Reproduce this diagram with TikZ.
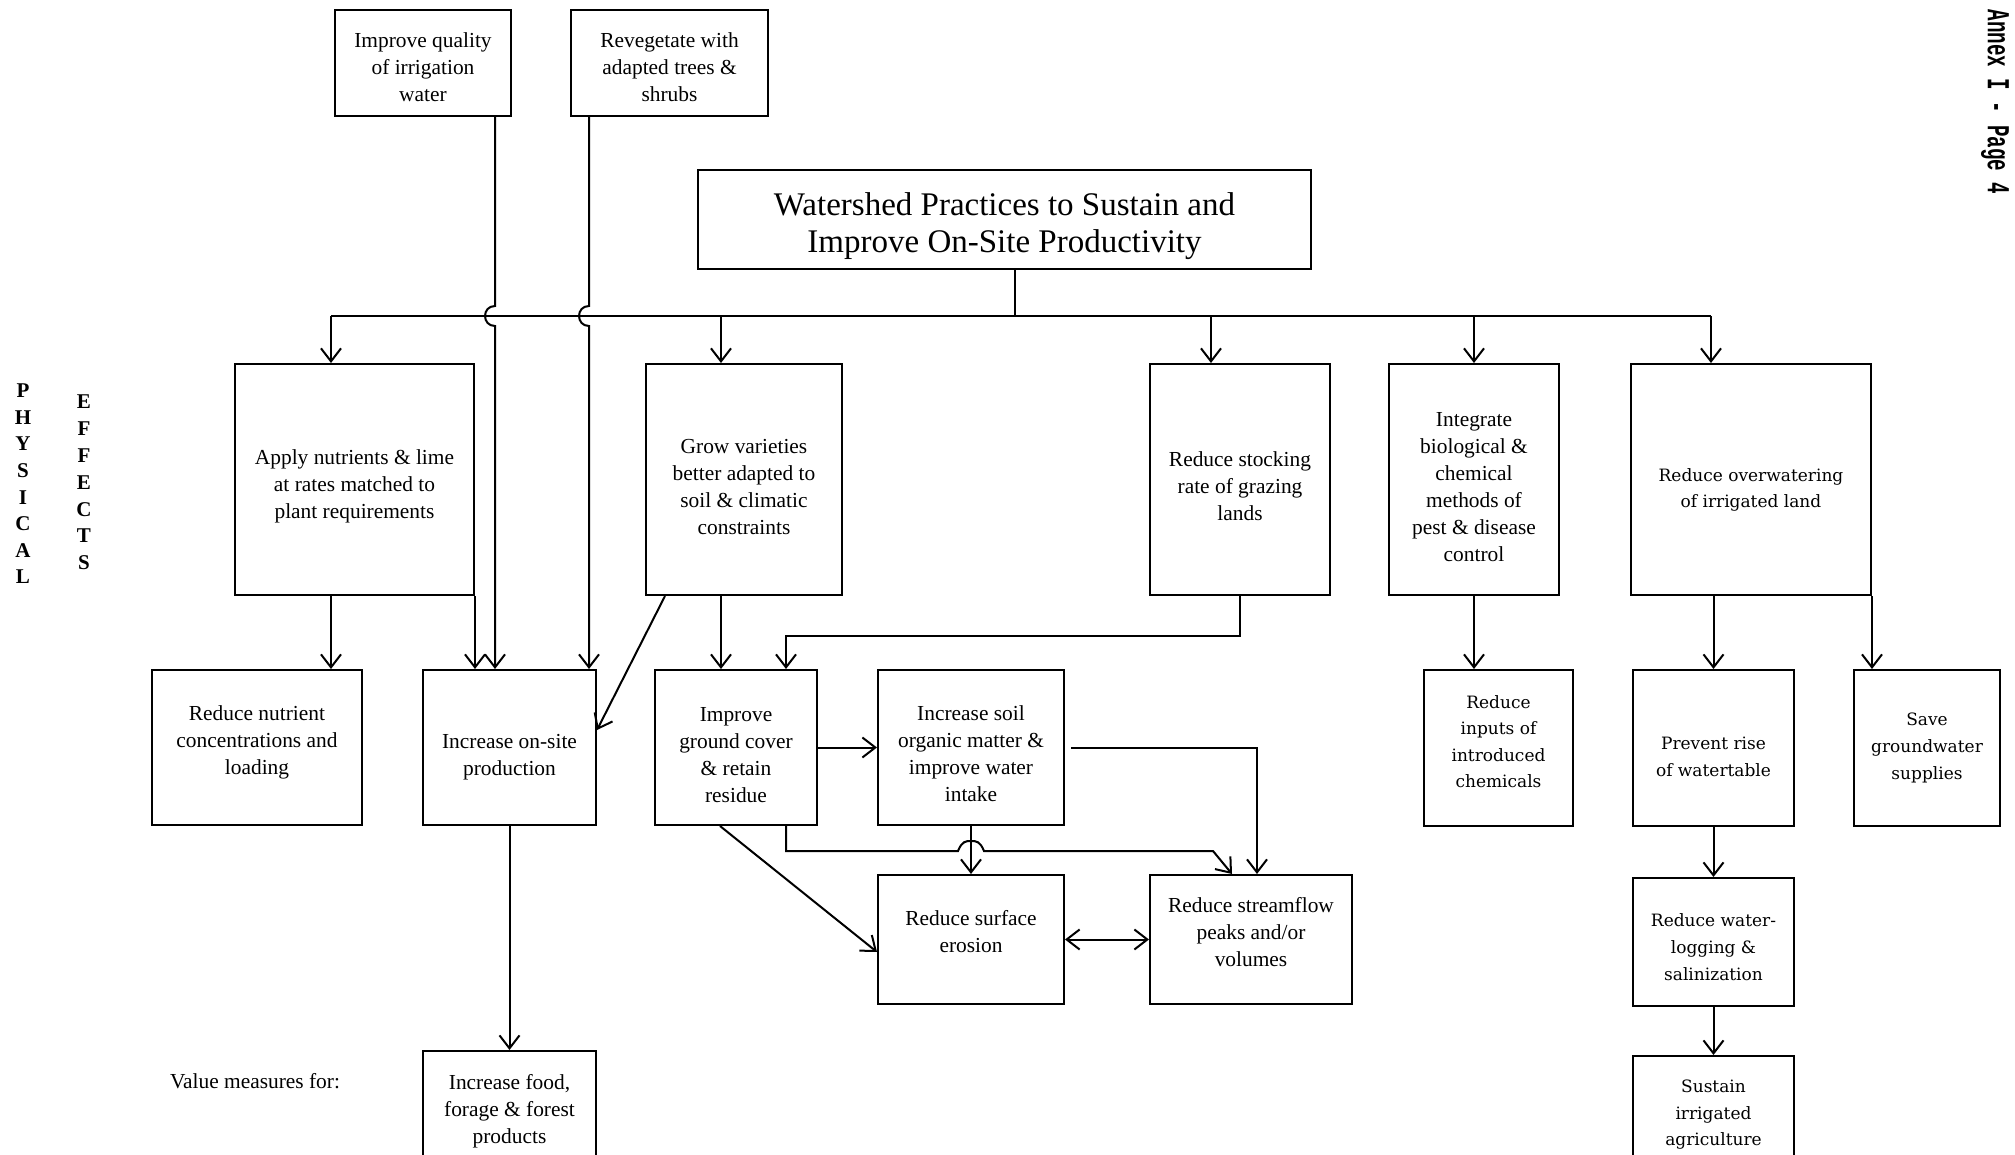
\documentclass[tikz,border=0pt]{standalone}
\usepackage{fontspec}
\setmainfont{Liberation Serif}
\newfontfamily\widefont{DejaVu Serif}
\newfontfamily\annexfont{Liberation Mono}
\usetikzlibrary{arrows.meta}

% push the text of a box down (taller first line) or up (deeper last line)
\newcommand{\dn}[1]{\rule{0pt}{#1}}
\newcommand{\up}[1]{\rule[-#1]{0pt}{0pt}}

\tikzset{
  blk/.style={draw, line width=1pt, align=center, inner sep=2pt,
    font=\fontsize{10.7}{13.5}\selectfont},
  wblk/.style={blk, font=\widefont\fontsize{8.5}{13.3}\selectfont},
  barb/.tip={Straight Barb[length=6.5pt,width=10pt]},
  arr/.style={line width=1pt, -barb},
  arrboth/.style={line width=1pt, barb-barb},
  lnk/.style={line width=1pt}
}

\begin{document}
\begin{tikzpicture}[x=0.5pt,y=-0.5pt]
\useasboundingbox (0,0) rectangle (2015,1155);
\clip (0,0) rectangle (2015,1155);

% top
\node[blk, minimum width=88pt, minimum height=53pt] (qual) at (423,63) {\dn{12pt}Improve quality\\of irrigation\\water};
\node[blk, minimum width=98.5pt, minimum height=53pt] (reveg) at (669.5,63) {\dn{12pt}Revegetate with\\adapted trees \&\\shrubs};
\node[blk, minimum width=306.5pt, minimum height=49.5pt, font=\fontsize{16.5}{18.5}\selectfont] (title) at (1004.5,219.5) {\dn{17.6pt}Watershed Practices to Sustain and\\Improve On-Site Productivity};

% practices
\node[blk, minimum width=119.5pt, minimum height=115.5pt] (apply) at (354.5,479.5) {\dn{14.3pt}Apply nutrients \& lime\\at rates matched to\\plant requirements};
\node[blk, minimum width=98pt, minimum height=115.5pt] (grow) at (744,479.5) {\dn{14.3pt}Grow varieties\\better adapted to\\soil \& climatic\\constraints};
\node[blk, minimum width=90pt, minimum height=115.5pt] (stock) at (1240,479.5) {\dn{14.3pt}Reduce stocking\\rate of grazing\\lands};
\node[blk, minimum width=85pt, minimum height=115.5pt] (integ) at (1474,479.5) {\dn{15pt}Integrate\\biological \&\\chemical\\methods of\\pest \& disease\\control};
\node[wblk, minimum width=120pt, minimum height=115.5pt] (overw) at (1751,479.5) {\dn{16.8pt}Reduce overwatering\\of irrigated land};

% physical effects
\node[blk, minimum width=105pt, minimum height=77.5pt] (rnut) at (257,747.5) {Reduce nutrient\\concentrations and\\loading\up{7.4pt}};
\node[blk, minimum width=86.5pt, minimum height=77.5pt] (onsite) at (509.5,747.5) {\dn{16.3pt}Increase on-site\\production};
\node[blk, minimum width=81pt, minimum height=77.5pt] (gcov) at (736,747.5) {\dn{15pt}Improve\\ground cover\\\& retain\\residue};
\node[blk, minimum width=93pt, minimum height=77.5pt] (soil) at (971,747.5) {\dn{13.7pt}Increase soil\\organic matter \&\\improve water\\intake};
\node[wblk, minimum width=74.5pt, minimum height=78pt] (rinp) at (1498.5,748) {Reduce\\inputs of\\introduced\\chemicals\up{6.4pt}};
\node[wblk, minimum width=80.5pt, minimum height=78pt] (prev) at (1713.5,748) {\dn{15.2pt}Prevent rise\\of watertable};
\node[wblk, minimum width=73pt, minimum height=78pt] (save) at (1927,748) {Save\\groundwater\\supplies};

\node[blk, minimum width=93pt, minimum height=64.5pt] (eros) at (971,939.5) {Reduce surface\\erosion\up{7.7pt}};
\node[blk, minimum width=101pt, minimum height=64.5pt] (strm) at (1251,939.5) {Reduce streamflow\\peaks and/or\\volumes\up{7.7pt}};
\node[wblk, minimum width=80.5pt, minimum height=64pt] (wlog) at (1713.5,942) {\dn{11.6pt}Reduce water-\\logging \&\\salinization};

% value measures
\node[blk, minimum width=86.5pt, minimum height=57pt] (food) at (509.5,1108) {\dn{11.2pt}Increase food,\\forage \& forest\\products};
\node[wblk, minimum width=80.5pt, minimum height=56pt] (sust) at (1713.5,1112) {\dn{9.1pt}Sustain\\irrigated\\agriculture};

% side labels
\node[font=\fontsize{10.7}{13}\selectfont] (vm) at (255,1081) {Value measures for:};
\node[align=center, font=\bfseries\fontsize{10.5}{13.3}\selectfont] (phys) at (23,484) {P\\H\\Y\\S\\I\\C\\A\\L};
\node[align=center, font=\bfseries\fontsize{10.5}{13.4}\selectfont] (eff) at (84,482.5) {E\\F\\F\\E\\C\\T\\S};
\node[rotate=-90, xscale=0.6, inner sep=1pt, font=\annexfont\bfseries\fontsize{16}{18}\selectfont] (annex) at (1995,102) {Annex I - Page 4};

% bus from title
\coordinate (busL) at (331,316);
\coordinate (busR) at (1711,316);
\draw[lnk] ([xshift=5.25pt]title.south) -- ([xshift=5.25pt]title.south |- busL);
\draw[lnk] (busL) -- (busR);
\foreach \x/\n in {331/apply, 721/grow, 1211/stock, 1474/integ, 1711/overw} {
  \coordinate (b\n) at (\x,316);
  \draw[arr] (b\n) -- (b\n |- \n.north);
}

% lines jumping the bus
\coordinate (q1) at (495,306);
\coordinate (q2) at (495,326);
\draw[arr] (qual.south -| q1) -- (q1) .. controls (481.7,306) and (481.7,326) .. (q2) -- (q2 |- onsite.north);
\coordinate (r1) at (589,306);
\coordinate (r2) at (589,326);
\draw[arr] (reveg.south -| r1) -- (r1) .. controls (575.7,306) and (575.7,326) .. (r2) -- (r2 |- onsite.north);

% practices to effects
\draw[arr] (apply.south -| busL) -- (busL |- rnut.north);
\draw[arr] (apply.south east) -- (apply.south east |- onsite.north);
\draw[arr] ([xshift=10pt]grow.south west) -- ([yshift=8.75pt]onsite.east);
\draw[arr] (grow.south -| bgrow) -- (bgrow |- gcov.north);
\coordinate (k1) at (786,636);
\draw[arr] (stock.south) |- (k1) -- (k1 |- gcov.north);
\draw[arr] (gcov.east) -- (soil.west);
\draw[arr] ([xshift=3pt]soil.east) -| ([xshift=3pt]strm.north);
\coordinate (k2) at (786,851);
\draw[arr] (gcov.south -| k2) -- (k2) -- (958,851) .. controls (962,841) and (966,841) .. (971,841) .. controls (976,841) and (980,841) .. (984,851) -- (1213,851) -- ([xshift=-9.5pt]strm.north);
\draw[arr] (soil.south) -- (eros.north);
\draw[arr] ([xshift=-8pt]gcov.south) -- ([yshift=-6.25pt]eros.west);
\draw[arrboth] (eros.east) -- (strm.west);
\draw[arr] (onsite.south) -- (food.north);

\draw[arr] (integ.south) -- (integ.south |- rinp.north);
\draw[arr] (prev.north |- overw.south) -- (prev.north);
\draw[arr] (overw.south east) -- (overw.south east |- save.north);
\draw[arr] (prev.south) -- (wlog.north);
\draw[arr] (wlog.south) -- (sust.north);
\end{tikzpicture}
\end{document}
